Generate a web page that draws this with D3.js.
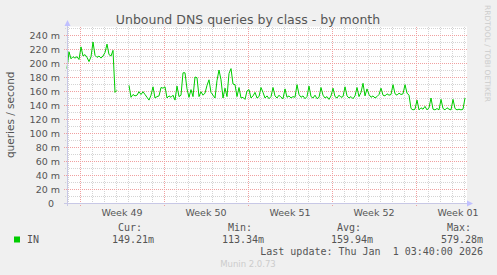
<!DOCTYPE html>
<html lang="en">
<head>
<meta charset="UTF-8">
<title>Unbound DNS queries by class - by month</title>
<script src="https://d3js.org/d3.v7.min.js"></script>
<style>
    body { margin: 0; background: #f0f0f0; }
    svg { display: block; }
    text { font-family: "DejaVu Sans", sans-serif; fill: #555; }
    .mono { font-family: "DejaVu Sans Mono", monospace; }
</style>
</head>
<body>
<svg width="497" height="275"></svg>
<script>
    // queries/second in milli units, one sample every 4 hours (null = no data)
    const values = [
        192, 216, 206, 209, 207, 209, 205, 223, 210, 212, 208, 202, 209, 230, 211, 208,
        210, 207, 210, 215, 227, 212, 210, 218, 158, 161,
        null, null, null, null, null,
        168, 151, 155, 153, 154, 159, 155,
        159, 155, 151, 147, 154, 166, 150, 152, 153, 165, 164, 166, 150, 153, 151, 154,
        147, 167, 152, 154, 186, 186, 163, 151, 162, 152, 180, 179, 152, 159, 154, 157,
        168, 176, 158, 154, 150, 175, 190, 176, 150, 164, 152, 185, 192, 170, 169, 152,
        165, 150, 151, 148, 160, 162,
        150, 153, 158, 150, 152, 165, 158, 150, 153, 149, 152, 165, 153, 150, 154, 151,
        149, 163, 151, 153, 150, 152, 151, 169, 155, 151, 153, 149, 152, 167, 152, 150,
        154, 149, 151, 165, 154, 150, 152, 148, 153, 164, 152, 150, 154, 151, 152, 166,
        153, 150, 152, 149, 153, 165, 152, 158, 171, 153, 163, 155, 151, 153, 150, 152,
        155, 164, 154, 153, 156, 154, 155, 169, 156, 154, 157, 155, 156, 169, 157, 154,
        135, 133, 134, 147, 133, 136, 134, 138, 133, 136, 150, 134, 133, 135, 133, 148,
        135, 133, 136, 134, 133, 148, 135, 133, 134, 133, 134, 150
    ];
    const stepHours = 4;
    const firstSample = new Date(Date.UTC(2025, 10, 29, 22));
    const viewStart = new Date(Date.UTC(2025, 10, 29, 22));
    const viewEnd = new Date(Date.UTC(2026, 0, 2, 6));

    const yMajor = d3.range(0, 241, 20);
    const yMinor = d3.range(10, 251, 20);

    const legendName = "IN";
    const legendHeads = ["Cur:", "Min:", "Avg:", "Max:"];
    const legendVals = ["149.21m", "113.34m", "159.94m", "579.28m"];
    const lastUpdate = "Last update: Thu Jan  1 03:40:00 2026";

    const svg = d3.select("svg");

    const x = d3.scaleUtc().domain([viewStart, viewEnd]).range([67, 467]);
    const y = d3.scaleLinear().domain([0, 252]).range([203, 26.6]);

    // plot canvas
    svg.append("rect")
        .attr("x", 67).attr("y", y(252))
        .attr("width", 400).attr("height", y(0) - y(252))
        .attr("fill", "#fff");

    const grid = svg.append("g").attr("shape-rendering", "crispEdges");

    // minor grid
    const days = d3.utcDay.range(viewStart, viewEnd).filter(d => d.getUTCDay() !== 1);
    days.forEach(d => {
        const px = Math.round(x(d)) + 0.5;
        grid.append("line").attr("x1", px).attr("x2", px).attr("y1", y(252)).attr("y2", 205)
            .attr("stroke", "#d4d4d4").attr("stroke-dasharray", "1,1");
    });
    yMinor.forEach(v => {
        const py = Math.round(y(v)) + 0.5;
        grid.append("line").attr("x1", 65).attr("x2", 467).attr("y1", py).attr("y2", py)
            .attr("stroke", "#d4d4d4").attr("stroke-dasharray", "1,1");
    });

    // major grid
    const mondays = d3.utcMonday.range(viewStart, viewEnd);
    mondays.forEach(d => {
        const px = Math.round(x(d)) + 0.5;
        grid.append("line").attr("x1", px).attr("x2", px).attr("y1", y(252)).attr("y2", 206)
            .attr("stroke", "#f0a0a0").attr("stroke-dasharray", "1,1");
    });
    yMajor.filter(v => v > 0).forEach(v => {
        const py = Math.round(y(v)) + 0.5;
        grid.append("line").attr("x1", 64).attr("x2", 467).attr("y1", py).attr("y2", py)
            .attr("stroke", "#f0a0a0").attr("stroke-dasharray", "1,1");
    });

    // y tick labels
    yMajor.forEach(v => {
        svg.append("text")
            .attr("x", v === 0 ? 54 : 60)
            .attr("y", y(v) + 3.5)
            .attr("text-anchor", "end")
            .attr("font-size", "9.5px")
            .text(v === 0 ? "0" : v + " m");
    });

    // week labels, centred in each week
    const fmtWeek = d3.utcFormat("%V");
    mondays.concat([d3.utcMonday.offset(mondays[mondays.length - 1], 1)]).forEach(d => {
        const mid = d3.utcHour.offset(d, 84);
        if (mid < viewStart || mid > viewEnd) return;
        svg.append("text")
            .attr("x", x(mid))
            .attr("y", 215.5)
            .attr("text-anchor", "middle")
            .attr("font-size", "9.5px")
            .text("Week " + fmtWeek(d));
    });

    // data line
    const series = values.map((v, i) => ({ t: d3.utcHour.offset(firstSample, i * stepHours), v: v }));
    const line = d3.line()
        .defined(d => d.v !== null)
        .x(d => x(d.t))
        .y(d => y(d.v));
    svg.append("path")
        .datum(series)
        .attr("d", line)
        .attr("fill", "none")
        .attr("stroke", "#00cc00")
        .attr("stroke-width", 1);

    // axes with arrows
    svg.append("line").attr("x1", 64).attr("x2", 468).attr("y1", 203.5).attr("y2", 203.5)
        .attr("stroke", "#c8c8e6").attr("shape-rendering", "crispEdges");
    svg.append("line").attr("x1", 67.5).attr("x2", 67.5).attr("y1", 206).attr("y2", 25)
        .attr("stroke", "#c8c8e6").attr("shape-rendering", "crispEdges");
    svg.append("path").attr("d", "M467,200.5 L473,203.5 L467,206.5 Z").attr("fill", "#c0c0ff");
    svg.append("path").attr("d", "M64.5,26 L67.5,20 L70.5,26 Z").attr("fill", "#c0c0ff");

    // title
    svg.append("text")
        .attr("x", 248).attr("y", 24)
        .attr("text-anchor", "middle")
        .attr("font-size", "12.5px")
        .text("Unbound DNS queries by class - by month");

    // y axis label
    svg.append("text")
        .attr("transform", "translate(14," + ((y(0) + y(252)) / 2) + ") rotate(-90)")
        .attr("text-anchor", "middle")
        .attr("font-size", "10.5px")
        .text("queries / second");

    // rrdtool watermark
    svg.append("text")
        .attr("transform", "translate(485,5) rotate(90)")
        .attr("font-size", "7.5px")
        .attr("textLength", 97)
        .style("fill", "#ccc")
        .text("RRDTOOL / TOBI OETIKER");

    // legend
    svg.append("rect").attr("x", 14).attr("y", 236.5).attr("width", 6).attr("height", 6)
        .attr("fill", "#00cc00");
    svg.append("text").attr("class", "mono").attr("x", 27).attr("y", 242.5)
        .attr("font-size", "10px").text(legendName);

    const colX = [112, 222, 331, 441];
    legendHeads.forEach((h, i) => {
        svg.append("text").attr("class", "mono")
            .attr("x", colX[i] + 6).attr("y", 231)
            .attr("font-size", "10px").text(h);
        svg.append("text").attr("class", "mono")
            .attr("x", colX[i]).attr("y", 242.5)
            .attr("font-size", "10px").text(legendVals[i]);
    });
    svg.append("text").attr("class", "mono")
        .attr("x", 483).attr("y", 255)
        .attr("text-anchor", "end")
        .attr("font-size", "10px")
        .style("white-space", "pre")
        .attr("xml:space", "preserve")
        .text(lastUpdate);

    svg.append("text")
        .attr("x", 248).attr("y", 267)
        .attr("text-anchor", "middle")
        .attr("font-size", "8.5px")
        .style("fill", "#ccc")
        .text("Munin 2.0.73");
</script>
</body>
</html>
